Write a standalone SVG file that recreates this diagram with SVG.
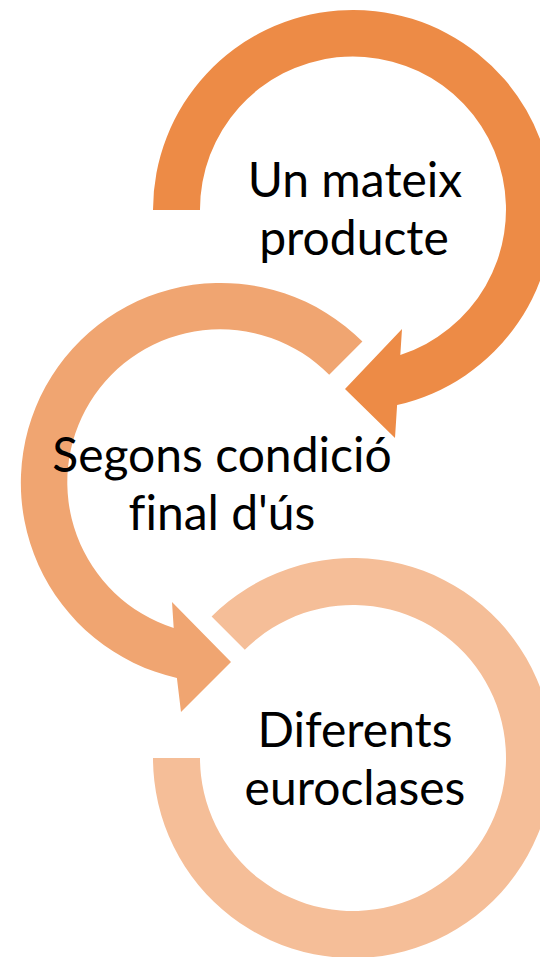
<svg xmlns="http://www.w3.org/2000/svg" width="540" height="957" viewBox="0 0 540 957">
<style>
.lbl{font-family:Lato,"Open Sans","Liberation Sans",sans-serif;font-size:48px;fill:#000;text-anchor:middle;font-variant-ligatures:none;font-feature-settings:"liga" 0}
.c1{fill:#ED8B46}
.c2{fill:#F0A571}
.c3{fill:#F5BE98}
</style>
<rect width="540" height="957" fill="#fff"/>
<g id="node3">
<path class="c3" d="M 211.6,616.6 A 200,200 0 1 1 153,758 L 200,758 A 153,153 0 1 0 244.8,649.8 Z"/>
<text class="lbl" x="355" y="747">Diferents</text>
<text class="lbl" x="355" y="805">euroclases</text>
</g>
<g id="node2">
<path class="c2" d="M 362.4,341.6 A 200,200 0 1 0 176.9,678 L 181,712 L 231,662 L 172,602 L 173.7,628 A 153,153 0 1 1 329.2,374.8 Z"/>
<text class="lbl" x="222" y="472">Segons condició</text>
<text class="lbl" x="222" y="530">final d'ús</text>
</g>
<g id="node1">
<path class="c1" d="M 153,210 A 200,200 0 1 1 397.1,405 L 395,438 L 345,389 L 402,329 L 400.3,355 A 153,153 0 1 0 200,210 Z"/>
<text class="lbl" x="355" y="197">Un mateix</text>
<text class="lbl" x="354" y="255">producte</text>
</g>
</svg>
